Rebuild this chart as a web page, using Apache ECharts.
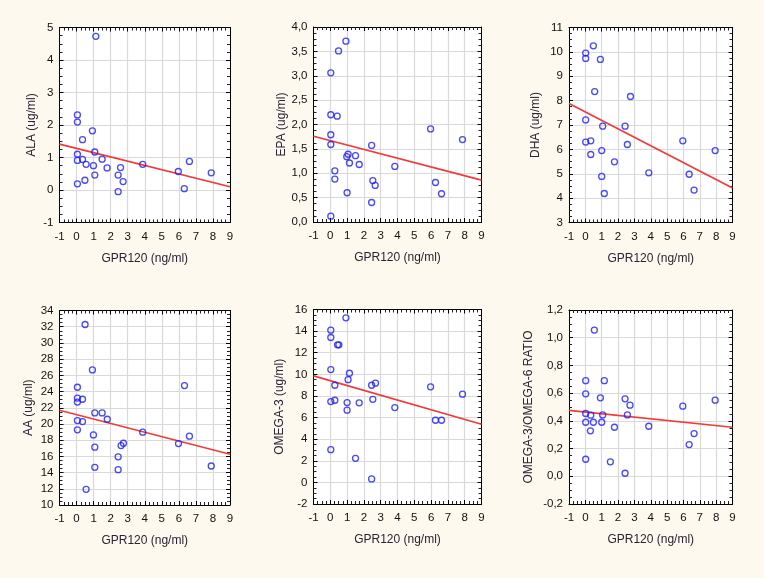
<!DOCTYPE html>
<html>
<head>
<meta charset="utf-8">
<script src="https://cdn.jsdelivr.net/npm/echarts@6/dist/echarts.min.js"></script>
<style>
html,body{margin:0;padding:0;background:#FEF9EE;}
#c{width:764px;height:578px;}
</style>
</head>
<body>
<div id="c"></div>
<script>
// ---- data ----
var xTicks = [-1, 0, 1, 2, 3, 4, 5, 6, 7, 8, 9];
var xName = 'GPR120 (ng/ml)';

var alaX = [1.13, 0.05, 0.05, 0.93, 0.35, 1.07, 0.05, 0.05, 0.35, 0.56, 0.99, 1.5, 1.79, 2.58, 2.44, 1.07, 2.73, 0.49, 0.05, 2.44, 3.88, 5.97, 6.62, 6.32, 7.9];
var alaY = [4.73, 2.31, 2.09, 1.82, 1.55, 1.17, 1.10, 0.91, 0.94, 0.79, 0.75, 0.95, 0.68, 0.69, 0.46, 0.46, 0.26, 0.30, 0.19, -0.05, 0.79, 0.57, 0.88, 0.04, 0.53];
var alaLine = [1.41, 0.10];

var epaX = [0.93, 0.49, 0.03, 0.03, 0.41, 0.03, 0.03, 2.46, 5.97, 7.87, 0.98, 1.06, 1.5, 1.14, 1.72, 3.84, 0.27, 0.27, 2.53, 2.67, 6.26, 6.62, 1.0, 2.46, 0.03];
var epaY = [3.71, 3.51, 3.06, 2.20, 2.17, 1.79, 1.59, 1.57, 1.91, 1.69, 1.34, 1.39, 1.36, 1.21, 1.18, 1.14, 1.05, 0.88, 0.85, 0.75, 0.81, 0.58, 0.60, 0.40, 0.12];
var epaLine = [1.76, 0.86];

var dhaX = [0.49, 0.02, 0.02, 0.92, 0.57, 2.76, 0.02, 1.06, 2.43, 0.02, 0.33, 5.96, 2.57, 0.33, 1.0, 7.94, 1.78, 3.88, 6.35, 1.0, 6.65, 1.16];
var dhaY = [10.25, 9.95, 9.73, 9.69, 8.37, 8.17, 7.21, 6.95, 6.95, 6.30, 6.35, 6.35, 6.20, 5.79, 5.95, 5.95, 5.49, 5.04, 4.98, 4.89, 4.33, 4.19];
var dhaLine = [7.88, 4.42];

var aaX = [0.5, 0.93, 0.05, 6.33, 0.05, 0.05, 0.35, 1.07, 1.5, 1.8, 0.05, 0.35, 0.05, 0.99, 3.88, 6.62, 5.98, 2.75, 2.61, 1.07, 2.44, 1.07, 2.44, 7.9, 0.56];
var aaY = [32.27, 26.67, 24.53, 24.74, 23.2, 22.7, 23.05, 21.36, 21.36, 20.58, 20.42, 20.3, 19.27, 18.65, 18.98, 18.49, 17.58, 17.62, 17.33, 17.13, 15.94, 14.65, 14.36, 14.81, 11.93];
var aaLine = [21.69, 16.26];

var o3X = [0.93, 0.03, 0.03, 0.43, 0.51, 0.03, 1.14, 1.06, 0.27, 2.46, 2.69, 5.97, 7.87, 2.53, 0.27, 0.03, 1.0, 1.72, 1.0, 3.84, 6.26, 6.62, 0.03, 1.5, 2.46];
var o3Y = [15.23, 14.09, 13.41, 12.73, 12.73, 10.44, 10.1, 9.51, 8.99, 8.99, 9.18, 8.84, 8.16, 7.69, 7.6, 7.48, 7.39, 7.36, 6.68, 6.92, 5.75, 5.75, 3.03, 2.23, 0.32];
var o3Line = [9.86, 5.38];

var ratioX = [0.55, 0.02, 1.16, 0.02, 0.92, 2.43, 2.73, 5.96, 7.94, 0.02, 0.33, 1.06, 2.57, 0.02, 0.49, 1.0, 0.31, 1.78, 3.88, 6.65, 6.35, 0.02, 1.53, 2.43];
var ratioY = [1.055, 0.69, 0.69, 0.595, 0.566, 0.559, 0.513, 0.506, 0.549, 0.453, 0.441, 0.443, 0.443, 0.39, 0.39, 0.39, 0.328, 0.354, 0.361, 0.308, 0.229, 0.123, 0.104, 0.022];
var ratioLine = [0.475, 0.354];

// ---- panels ----
var panels = [
  {name: 'ALA (ug/ml)', x: alaX, y: alaY, line: alaLine, min: -1, max: 5, interval: 1, dec: 0, gap: 22,
   grid: {left: 59.5, top: 27.5, width: 170.5, height: 195}},
  {name: 'EPA (ug/ml)', x: epaX, y: epaY, line: epaLine, min: 0, max: 4, interval: 0.5, dec: 1, gap: 26,
   grid: {left: 313.5, top: 27, width: 168, height: 195}},
  {name: 'DHA (ug/ml)', x: dhaX, y: dhaY, line: dhaLine, min: 3, max: 11, interval: 1, dec: 0, gap: 27,
   grid: {left: 569, top: 27.5, width: 163.5, height: 195}},
  {name: 'AA (ug/ml)', x: aaX, y: aaY, line: aaLine, min: 10, max: 34, interval: 2, dec: 0, gap: 25,
   grid: {left: 59.5, top: 310.5, width: 170.5, height: 194.5}},
  {name: 'OMEGA-3 (ug/ml)', x: o3X, y: o3Y, line: o3Line, min: -2, max: 16, interval: 2, dec: 0, gap: 28,
   grid: {left: 313.5, top: 309.5, width: 168, height: 194.5}},
  {name: 'OMEGA-3/OMEGA-6 RATIO', x: ratioX, y: ratioY, line: ratioLine, min: -0.2, max: 1.2, interval: 0.2, dec: 1, gap: 34,
   grid: {left: 569, top: 310, width: 163.5, height: 194}}
];

var labelFont = {color: '#111', fontFamily: 'Liberation Sans, Arial, sans-serif', fontSize: 11.5};
var nameFont = {color: '#2b2233', fontFamily: 'Liberation Sans, Arial, sans-serif', fontSize: 12};
var frame = {show: true, onZero: false, lineStyle: {color: '#000', width: 1}};
var tick = {show: true, inside: true, length: 4, lineStyle: {color: '#000', width: 1}};
var minor = {show: true, splitNumber: 4, length: 3, lineStyle: {color: '#222', width: 1}};
var split = {show: true, lineStyle: {color: '#d9d9d9', width: 1.2}};

var grids = [], xAxes = [], yAxes = [], series = [];
panels.forEach(function (p, i) {
  grids.push(Object.assign({containLabel: false, backgroundColor: '#fff', show: true, borderWidth: 0}, p.grid));
  var fmt = function (v) { return Number(v).toFixed(p.dec).replace('.', ','); };
  // bottom x
  xAxes.push({type: 'value', gridIndex: i, position: 'bottom', min: xTicks[0], max: xTicks[xTicks.length - 1], interval: 1,
    name: xName, nameLocation: 'middle', nameGap: 30, nameTextStyle: nameFont,
    axisLine: frame, axisTick: tick, minorTick: minor, splitLine: split,
    axisLabel: Object.assign({margin: 8, showMinLabel: true, showMaxLabel: true}, labelFont)});
  // top x (frame only)
  xAxes.push({type: 'value', gridIndex: i, position: 'top', min: xTicks[0], max: xTicks[xTicks.length - 1], interval: 1,
    axisLine: frame, axisTick: tick, minorTick: minor, splitLine: {show: false}, axisLabel: {show: false}});
  // left y
  yAxes.push({type: 'value', gridIndex: i, position: 'left', min: p.min, max: p.max, interval: p.interval,
    name: p.name, nameLocation: 'middle', nameGap: p.gap, nameRotate: 90, nameTextStyle: nameFont,
    axisLine: frame, axisTick: tick, minorTick: minor, splitLine: split,
    axisLabel: Object.assign({margin: 6, formatter: fmt, showMinLabel: true, showMaxLabel: true}, labelFont)});
  // right y (frame only)
  yAxes.push({type: 'value', gridIndex: i, position: 'right', min: p.min, max: p.max, interval: p.interval,
    axisLine: frame, axisTick: tick, minorTick: minor, splitLine: {show: false}, axisLabel: {show: false}});

  var pts = p.x.map(function (xv, k) { return [xv, p.y[k]]; });
  series.push({type: 'line', xAxisIndex: 2 * i, yAxisIndex: 2 * i, data: [[xTicks[0], p.line[0]], [xTicks[xTicks.length - 1], p.line[1]]],
    symbol: 'none', lineStyle: {color: '#f23a3a', width: 1.7}, silent: true, z: 3, animation: false});
  series.push({type: 'scatter', xAxisIndex: 2 * i, yAxisIndex: 2 * i, data: pts, symbol: 'circle', symbolSize: 6,
    itemStyle: {color: 'rgba(255,255,255,0)', borderColor: '#1a1aff', borderWidth: 1.3}, z: 4, animation: false});
});

var chart = echarts.init(document.getElementById('c'), null, {renderer: 'canvas'});
chart.setOption({
  backgroundColor: '#FEF9EE',
  animation: false,
  grid: grids,
  xAxis: xAxes,
  yAxis: yAxes,
  series: series
});
</script>
</body>
</html>
